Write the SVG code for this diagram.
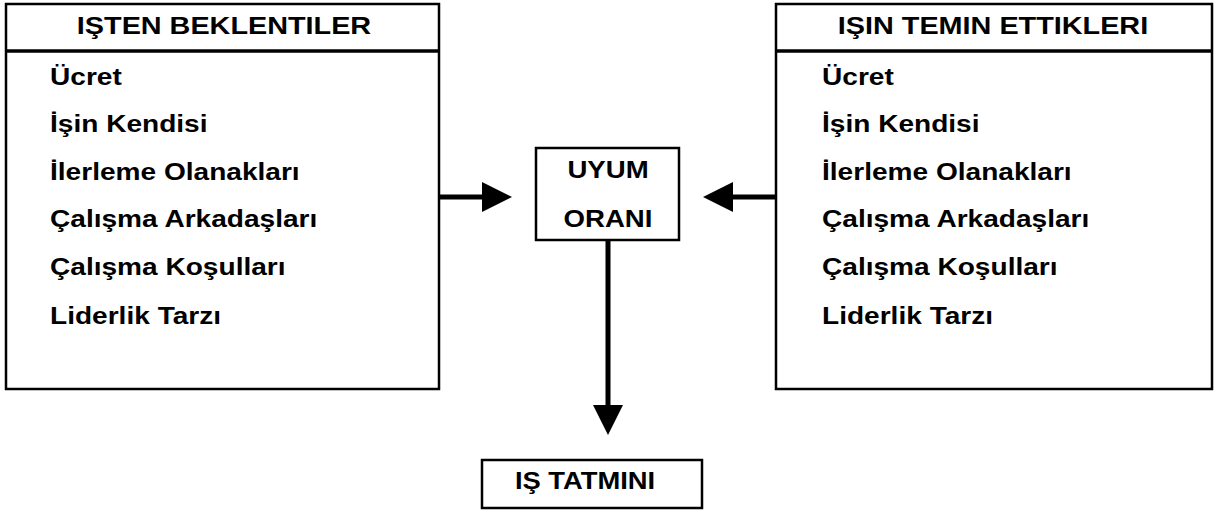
<svg xmlns="http://www.w3.org/2000/svg" width="1224" height="512" viewBox="0 0 1224 512">
<style>
.box{fill:#fff;stroke:#000;stroke-width:2.5}
.div{stroke:#000;stroke-width:3.5}
.t{font-family:"Liberation Sans",Arial,sans-serif;font-weight:bold;font-size:24px;fill:#000}
.c{text-anchor:middle}
.ln{stroke:#000;stroke-width:5;fill:none}
.ah{fill:#000}
</style>
<rect width="1224" height="512" fill="#fff"/>
<g id="isten-beklentiler">
<rect class="box" x="6" y="4" width="433" height="385"/>
<line class="div" x1="6" y1="51" x2="439" y2="51"/>
<text class="t c" transform="translate(224,34) scale(1.2,1)">IŞTEN BEKLENTILER</text>
<text class="t" transform="translate(50,85) scale(1.17,1)">Ücret</text>
<text class="t" transform="translate(50,132) scale(1.17,1)">İşin Kendisi</text>
<text class="t" transform="translate(50,180) scale(1.17,1)">İlerleme Olanakları</text>
<text class="t" transform="translate(50,227) scale(1.17,1)">Çalışma Arkadaşları</text>
<text class="t" transform="translate(50,275) scale(1.17,1)">Çalışma Koşulları</text>
<text class="t" transform="translate(50,324) scale(1.17,1)">Liderlik Tarzı</text>
</g>
<g id="isin-temin-ettikleri">
<rect class="box" x="776" y="4" width="436" height="385"/>
<line class="div" x1="776" y1="51" x2="1212" y2="51"/>
<text class="t c" transform="translate(993,34) scale(1.2,1)">IŞIN TEMIN ETTIKLERI</text>
<text class="t" transform="translate(822,85) scale(1.17,1)">Ücret</text>
<text class="t" transform="translate(822,132) scale(1.17,1)">İşin Kendisi</text>
<text class="t" transform="translate(822,180) scale(1.17,1)">İlerleme Olanakları</text>
<text class="t" transform="translate(822,227) scale(1.17,1)">Çalışma Arkadaşları</text>
<text class="t" transform="translate(822,275) scale(1.17,1)">Çalışma Koşulları</text>
<text class="t" transform="translate(822,324) scale(1.17,1)">Liderlik Tarzı</text>
</g>
<g id="uyum-orani">
<rect class="box" x="536" y="148" width="143" height="92"/>
<text class="t c" transform="translate(608,178) scale(1.15,1)">UYUM</text>
<text class="t c" transform="translate(608,227) scale(1.15,1)">ORANI</text>
</g>
<g id="is-tatmini">
<rect class="box" x="482" y="460" width="220" height="48"/>
<text class="t c" transform="translate(585,489) scale(1.14,1)">IŞ TATMINI</text>
</g>
<g id="connectors">
<line class="ln" x1="440" y1="197" x2="484" y2="197"/>
<polygon class="ah" points="482,182 512,197 482,212"/>
<line class="ln" x1="775" y1="197" x2="731" y2="197"/>
<polygon class="ah" points="733,182 703,197 733,212"/>
<line class="ln" x1="608" y1="240" x2="608" y2="407"/>
<polygon class="ah" points="593,405 623,405 608,435"/>
</g>
</svg>
